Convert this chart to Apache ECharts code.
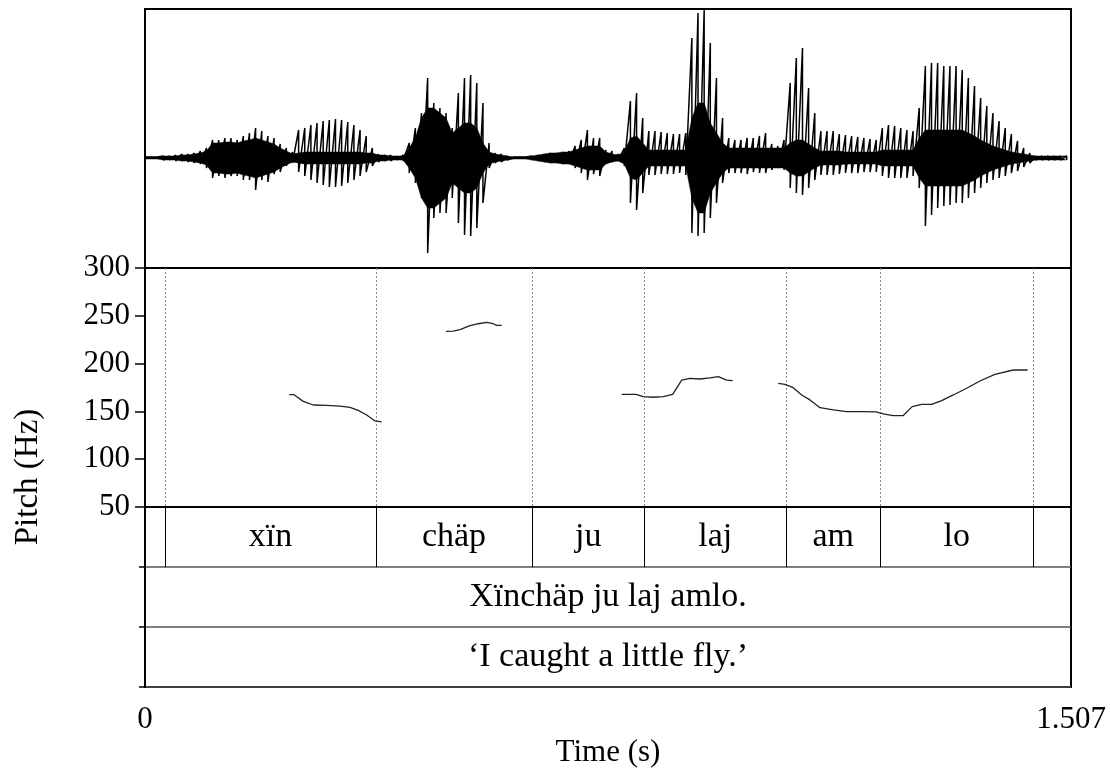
<!DOCTYPE html>
<html><head><meta charset="utf-8">
<script src="https://cdn.jsdelivr.net/npm/echarts@6/dist/echarts.min.js"></script>
<style>html,body{margin:0;padding:0;background:#fff}#c{width:1111px;height:771px}</style>
</head><body><div id="c"></div>
<script>
// ---- Waveform envelope, read every 0.01 s from 0 to 1.50 s (arbitrary amplitude units) ----
const WAVE_DT = 0.01;
const waveTop = [1,1,1,2,2,3,4,4,5,7, 10,18,18,20,20,18,22,25,30,27, 22,20,14,10,6,28,30,33,35,37,
  38,39,38,36,33,28,22,10,4,3, 3,2,3,15,30,45,80,55,50,45, 30,65,80,83,75,55,15,5,4,2,
  1,1,1,2,3,4,5,5,6,7, 12,18,28,20,20,8,7,4,10,57, 65,40,27,27,26,25,24,24,25,120,
  145,148,115,80,40,20,18,18,20,20, 22,25,14,12,18,75,100,110,70,45, 27,27,27,24,23,22,21,20,19,18,
  30,33,32,30,28,27,50,92,95,95, 92,92,92,88,80,72,60,52,45,37, 30,24,17,10,5,2,2,2,2,2, 2];
const waveBottom = [1,1,1,2,2,3,3,4,5,6, 10,20,18,20,18,18,22,22,32,22, 24,16,14,8,5,14,18,22,25,27,
  29,29,28,25,22,18,14,8,4,3, 3,2,3,15,25,40,95,60,55,55, 40,65,77,78,70,45,10,5,4,2,
  1,1,1,2,3,4,5,5,6,6, 10,15,22,16,18,6,4,3,8,45, 52,35,17,17,16,16,16,15,17,75,
  78,75,60,45,25,15,15,15,16,14, 15,15,12,10,12,30,35,37,30,22, 17,17,17,16,15,15,15,14,14,14,
  18,20,20,20,20,18,30,68,57,50, 48,47,45,45,40,35,30,25,22,20, 18,15,13,9,5,2,2,2,2,2, 2];
const waveCore = [1,1,1,2,2,2,3,3,4,5, 7,15,15,16,16,15,17,18,20,18, 16,14,10,7,4,5,6,6,6,6,
  6,6,6,6,6,6,5,5,3,3, 2,2,2,10,20,40,50,50,45,40, 25,30,35,35,30,15,6,4,3,2,
  1,1,1,2,3,4,5,5,6,6, 8,10,12,12,12,6,4,3,6,20, 22,15,8,8,8,8,8,8,8,40,
  55,55,35,25,15,10,10,10,10,10, 10,10,10,10,10,15,18,18,14,10, 7,7,7,7,6,6,6,6,6,6,
  8,8,8,8,8,8,20,28,28,28, 28,28,28,28,25,22,18,15,12,10, 8,6,5,4,3,2,2,2,2,2, 2];

// ---- Pitch contour segments [time s, Hz] ----
const pitchSeg1 = [[0.2348,167.5],[0.2425,167.5],[0.2576,160.5],[0.2739,156.7],[0.2957,156.3],[0.3173,155.6],[0.3336,154.2],[0.3471,151.1],[0.3608,146.2],[0.3743,140],[0.3852,139]];
const pitchSeg2 = [[0.4898,233.8],[0.5017,234],[0.5126,235.5],[0.5289,239.7],[0.5424,241.7],[0.5561,243.2],[0.5668,241.7],[0.5723,240],[0.5805,240]];
const pitchSeg3 = [[0.7758,167.9],[0.7990,167.9],[0.8109,165.5],[0.8272,164.8],[0.8434,165.5],[0.8587,167.9],[0.8734,182.8],[0.8869,184.6],[0.9032,183.9],[0.9194,185],[0.9330,186.3],[0.9466,182.8],[0.9564,182.1]];
const pitchSeg4 = [[1.0306,179.4],[1.0415,178.3],[1.0540,175.2],[1.0687,167.2],[1.0822,162],[1.0985,153.9],[1.1201,151.5],[1.1419,149.7],[1.1689,149.7],[1.1896,149.4],[1.2015,147.3],[1.2177,145.5],[1.2340,145.7],[1.2486,155],[1.2640,157.4],[1.2802,157.4],[1.2965,161.2],[1.3154,167.2],[1.3372,174.2],[1.3588,181.8],[1.3832,188.8],[1.4130,193.3],[1.4364,193.3]];

// ---- TextGrid ----
const boundaries = [0.0330, 0.3754, 0.6303, 0.8125, 1.0436, 1.1966, 1.4456];
const words = ['xïn','chäp','ju','laj','am','lo'];
const sentence = 'Xïnchäp ju laj amlo.';
const translation = '‘I caught a little fly.’';
const pitchTicks = [50, 100, 150, 200, 250, 300];
const T_END = 1.507;

const FONT = '"Liberation Serif","Times New Roman",serif';
const FS = 31;      // axis text
const FS_TIER = 34; // tier text
const FS_NAME = 33;

const chart = echarts.init(document.getElementById('c'), null, {renderer: 'canvas'});

const waveLine = [];
waveTop.forEach((v, i) => {
  const t = +(i * WAVE_DT).toFixed(3);
  waveLine.push([t, v]);
  waveLine.push([t, -waveBottom[i]]);
});
const coreUp = waveCore.map((v, i) => [+(i * WAVE_DT).toFixed(3), v]);
const coreDown = waveCore.map((v, i) => [+(i * WAVE_DT).toFixed(3), -v]);

const L = 145, W = 926;
const grids = [
  {left: L, width: W, top: 9, height: 259, show: true, borderColor: '#000', borderWidth: 2},
  {left: L, width: W, top: 268, height: 239, show: true, borderColor: '#000', borderWidth: 2},
  {left: L, width: W, top: 507, height: 180, show: true, borderColor: '#000', borderWidth: 2}
];
const hiddenX = (gi) => ({type: 'value', gridIndex: gi, min: 0, max: T_END, show: false});

const wordData = words.map((w, i) => [boundaries[i], boundaries[i + 1], w, 0]);
wordData.push([0, T_END, sentence, 1]);
wordData.push([0, T_END, translation, 2]);

const series = [
  {type: 'line', xAxisIndex: 0, yAxisIndex: 0, data: coreUp, showSymbol: false, silent: true,
   lineStyle: {width: 0.5, color: '#000'}, areaStyle: {color: '#000', opacity: 1}},
  {type: 'line', xAxisIndex: 0, yAxisIndex: 0, data: coreDown, showSymbol: false, silent: true,
   lineStyle: {width: 0.5, color: '#000'}, areaStyle: {color: '#000', opacity: 1}},
  {type: 'line', xAxisIndex: 0, yAxisIndex: 0, data: waveLine, showSymbol: false, silent: true,
   lineStyle: {width: 1.5, color: '#000'}},
  {type: 'custom', xAxisIndex: 1, yAxisIndex: 1, silent: true,
   data: boundaries.map(t => [t]),
   renderItem: (params, api) => {
     const a = api.coord([api.value(0), 300]);
     const b = api.coord([api.value(0), 50]);
     return {type: 'line', shape: {x1: Math.round(a[0]) + 0.5, y1: a[1], x2: Math.round(a[0]) + 0.5, y2: b[1]},
       style: {stroke: '#888', lineWidth: 1, lineDash: [2, 2]}};
   }}
];
[pitchSeg1, pitchSeg2, pitchSeg3, pitchSeg4].forEach(seg => {
  series.push({type: 'line', xAxisIndex: 1, yAxisIndex: 1, data: seg, showSymbol: false, silent: true,
    lineStyle: {width: 1.3, color: '#222'}});
});
series.push({type: 'custom', xAxisIndex: 2, yAxisIndex: 2, silent: true,
  data: boundaries.map(t => [t]),
  renderItem: (params, api) => {
    const a = api.coord([api.value(0), 0]);
    const b = api.coord([api.value(0), 1]);
    return {type: 'line', shape: {x1: Math.round(a[0]) + 0.5, y1: a[1], x2: Math.round(a[0]) + 0.5, y2: b[1]},
      style: {stroke: '#000', lineWidth: 1}};
  }});
series.push({type: 'custom', xAxisIndex: 2, yAxisIndex: 2, silent: true,
  data: wordData,
  renderItem: (params, api) => {
    const row = api.value(3);
    const p1 = api.coord([api.value(0), row + 0.5]);
    const p2 = api.coord([api.value(1), row + 0.5]);
    return {type: 'text', style: {text: wordData[params.dataIndex][2], x: (p1[0] + p2[0]) / 2, y: p1[1],
      align: 'center', verticalAlign: 'middle', font: FS_TIER + 'px ' + FONT, fill: '#000'}};
  }});

chart.setOption({
  animation: false,
  backgroundColor: '#fff',
  grid: grids,
  xAxis: [hiddenX(0), hiddenX(1), {
    type: 'value', gridIndex: 2, min: 0, max: T_END, interval: T_END,
    axisLine: {show: true, lineStyle: {color: '#000', width: 2}},
    axisTick: {show: true, length: 9, lineStyle: {color: '#000', width: 1.5}},
    splitLine: {show: false},
    axisLabel: {fontFamily: FONT, fontSize: FS, color: '#000', margin: 17,
      formatter: v => (v === 0 ? '0' : '1.507'), showMinLabel: true, showMaxLabel: true},
    name: 'Time (s)', nameLocation: 'middle', nameGap: 50,
    nameTextStyle: {fontFamily: FONT, fontSize: FS, color: '#000'}
  }],
  yAxis: [
    {type: 'value', gridIndex: 0, min: -110, max: 149, show: false},
    {type: 'value', gridIndex: 1, min: 50, max: 300, interval: 50,
      axisLine: {show: true, lineStyle: {color: '#000', width: 2}},
      axisTick: {show: true, length: 10, lineStyle: {color: '#000', width: 1.5}},
      splitLine: {show: false},
      axisLabel: {fontFamily: FONT, fontSize: FS, color: '#000', margin: 15,
        formatter: v => (pitchTicks.indexOf(v) >= 0 ? String(v) : '')}},
    {type: 'value', gridIndex: 2, min: 0, max: 3, interval: 1, inverse: true,
      axisLine: {show: true, lineStyle: {color: '#000', width: 2}},
      axisTick: {show: true, length: 6, lineStyle: {color: '#000', width: 1.5}},
      axisLabel: {show: false},
      splitLine: {show: true, lineStyle: {color: '#555', width: 1.5}}}
  ],
  graphic: [{type: 'text', x: 28, y: 477, rotation: Math.PI / 2,
    style: {text: 'Pitch (Hz)', font: FS_NAME + 'px ' + FONT, fill: '#000', align: 'center', verticalAlign: 'middle'}}],
  series: series
});
</script></body></html>
